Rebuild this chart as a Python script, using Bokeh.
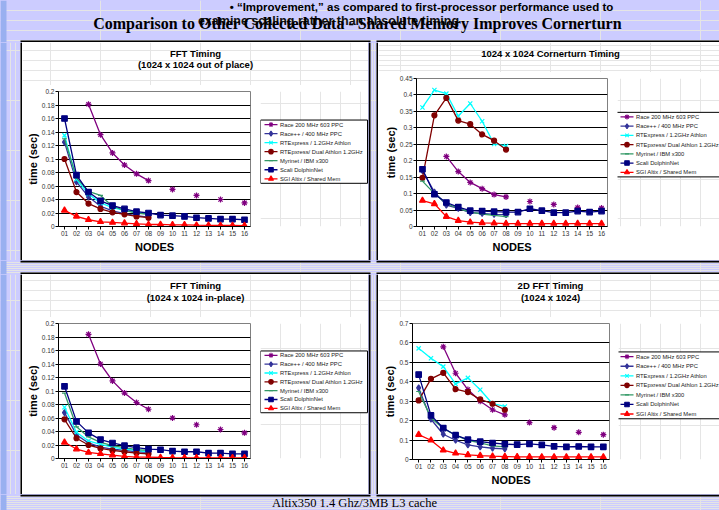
import numpy as np
from bokeh.plotting import figure
from bokeh.models import Range1d, FactorRange, FixedTicker, CustomJSTickFormatter, Label
from bokeh.core.properties import value
from bokeh.layouts import column, row
from bokeh.embed import file_html
from bokeh.resources import INLINE

N = np.nan
NODES = ["01", "02", "03", "04", "05", "06", "07", "08",
         "09", "10", "11", "12", "13", "14", "15", "16"]

SERIES = ["Race 200 MHz 603 PPC", "Race++ / 400 MHz PPC", "RTExpress / 1.2GHz Athlon",
          "RTEpxress/ Dual Athlon 1.2GHz", "Myrinet / IBM x300", "Scali DolphinNet",
          "SGI Altix / Shared Mem"]

# ---- FFT Timing (1024 x 1024 out of place) ----
OOP_RACE200 = [N, N, 0.181, 0.136, 0.109, 0.091, 0.078, 0.068, N, 0.055, N, 0.046, N, 0.040, N, 0.035]
OOP_RACEPP = [0.125, 0.066, 0.044, 0.030, 0.023, 0.019, 0.016, 0.014, N, N, N, N, N, N, N, N]
OOP_RTE = [0.135, 0.070, 0.048, 0.035, 0.028, 0.024, 0.021, 0.019, N, N, N, N, N, N, N, N]
OOP_DUAL = [0.100, 0.051, 0.034, 0.026, 0.021, 0.018, 0.015, 0.013, N, N, N, N, N, N, N, N]
OOP_MYRI = [0.130, 0.072, 0.052, 0.046, 0.030, 0.024, 0.020, 0.018, N, N, N, N, N, N, N, N]
OOP_SCALI = [0.160, 0.076, 0.051, 0.038, 0.031, 0.026, 0.022, 0.020, 0.017, 0.016, 0.015, 0.013, 0.012, 0.011, 0.011, 0.010]
OOP_SGI = [0.024, 0.015, 0.010, 0.007, 0.006, 0.005, 0.004, 0.003, 0.003, 0.0025, 0.0025, 0.002, 0.0018, 0.0016, 0.0015, 0.0014]
OOP_YTICKS = [0, 0.02, 0.04, 0.06, 0.08, 0.1, 0.12, 0.14, 0.16, 0.18, 0.2]

# ---- 1024 x 1024 Cornerturn Timing ----
CT_RACE200 = [N, N, 0.213, 0.167, 0.134, 0.115, 0.097, 0.090, N, 0.076, N, 0.067, N, 0.058, N, 0.056]
CT_RACEPP = [0.170, 0.105, 0.065, 0.055, 0.042, 0.040, 0.037, 0.036, N, N, N, N, N, N, N, N]
CT_RTE = [0.362, 0.415, 0.404, 0.336, 0.374, 0.320, 0.251, 0.245, N, N, N, N, N, N, N, N]
CT_DUAL = [0.148, 0.338, 0.391, 0.322, 0.311, 0.280, 0.261, 0.234, N, N, N, N, N, N, N, N]
CT_MYRI = [0.138, 0.100, 0.070, 0.055, 0.044, 0.038, 0.034, 0.030, N, N, N, N, N, N, N, N]
CT_SCALI = [0.174, 0.098, 0.073, 0.059, 0.048, 0.047, 0.045, 0.044, 0.044, 0.054, 0.048, 0.042, 0.042, 0.047, 0.044, 0.047]
CT_SGI = [0.079, 0.069, 0.030, 0.018, 0.013, 0.011, 0.010, 0.009, 0.009, 0.009, 0.009, 0.009, 0.009, 0.009, 0.009, 0.009]
CT_YTICKS = [0, 0.05, 0.1, 0.15, 0.2, 0.25, 0.3, 0.35, 0.4, 0.45]

# ---- FFT Timing (1024 x 1024 in-place) ----
IP_RACE200 = [N, N, 0.184, 0.140, 0.115, 0.097, 0.083, 0.073, N, 0.060, N, 0.050, N, 0.043, N, 0.038]
IP_RACEPP = [0.068, 0.035, 0.023, 0.017, 0.014, 0.012, 0.010, 0.009, N, N, N, N, N, N, N, N]
IP_RTE = [0.076, 0.039, 0.026, 0.021, 0.017, 0.014, 0.012, 0.010, N, N, N, N, N, N, N, N]
IP_DUAL = [0.058, 0.030, 0.020, 0.015, 0.012, 0.010, 0.008, 0.007, N, N, N, N, N, N, N, N]
IP_MYRI = [0.097, 0.047, 0.032, 0.024, 0.019, 0.016, 0.013, 0.012, N, N, N, N, N, N, N, N]
IP_SCALI = [0.107, 0.055, 0.038, 0.028, 0.023, 0.019, 0.016, 0.014, 0.013, 0.011, 0.010, 0.010, 0.008, 0.008, 0.007, 0.007]
IP_SGI = [0.024, 0.014, 0.009, 0.007, 0.005, 0.003, 0.002, 0.002, 0.0015, 0.0012, 0.001, 0.001, 0.001, 0.001, 0.001, 0.001]
IP_YTICKS = [0, 0.02, 0.04, 0.06, 0.08, 0.1, 0.12, 0.14, 0.16, 0.18, 0.2]

# ---- 2D FFT Timing (1024 x 1024) ----
TD_RACE200 = [N, N, 0.580, 0.444, 0.360, 0.300, 0.256, 0.230, N, 0.190, N, 0.164, N, 0.140, N, 0.128]
TD_RACEPP = [0.369, 0.207, 0.130, 0.099, 0.075, 0.065, 0.058, 0.055, N, N, N, N, N, N, N, N]
TD_RTE = [0.572, 0.521, 0.478, 0.389, 0.420, 0.359, 0.287, 0.273, N, N, N, N, N, N, N, N]
TD_DUAL = [0.304, 0.415, 0.446, 0.362, 0.347, 0.309, 0.287, 0.256, N, N, N, N, N, N, N, N]
TD_MYRI = [0.350, 0.215, 0.160, 0.125, 0.098, 0.085, 0.070, 0.065, N, N, N, N, N, N, N, N]
TD_SCALI = [0.437, 0.227, 0.162, 0.125, 0.102, 0.092, 0.085, 0.079, 0.077, 0.080, 0.075, 0.068, 0.065, 0.067, 0.065, 0.065]
TD_SGI = [0.128, 0.099, 0.048, 0.032, 0.024, 0.020, 0.017, 0.015, 0.014, 0.014, 0.013, 0.013, 0.013, 0.013, 0.013, 0.013]
TD_YTICKS = [0, 0.1, 0.2, 0.3, 0.4, 0.5, 0.6, 0.7]

HEADER_LINE1 = "\u2022 \u201cImprovement,\u201d as compared to first-processor performance used to"
HEADER_LINE2 = "examine scaling rather than absolute timing"
SLIDE_TITLE = "Comparison to Other Collected Data - Shared Memory Improves Cornerturn"
FOOTER = "Altix350 1.4 Ghz/3MB L3 cache"

# ---- styles ----
COLORS = ["#800080", "#333399", "#00FFFF", "#800000", "#339966", "#000080", "#FF0000"]
MARKERS = ["asterisk", "diamond", "x", "circle", "dash", "square", "triangle"]
MSIZES = [6, 6, 6, 5, 5, 5.5, 6]
LEG_MSIZES = [5, 5, 5, 4.5, 4, 4.5, 5]
LAV = "#CCCCFF"
STRIP = "#99B0F0"
SANS = "Liberation Sans"
SERIF = "Liberation Serif"
COMMON = dict(output_backend="svg", toolbar_location=None, title=None)

fmt = CustomJSTickFormatter(code="""
let s = tick.toFixed(2); s = s.replace(/0+$/, ''); s = s.replace(/\\.$/, ''); return s;
""")


def pix_fig(x0, x1, y0, y1, bg):
    """A plain figure whose frame is the whole canvas, in slide pixel coordinates."""
    f = figure(width=x1 - x0, height=y1 - y0, x_range=Range1d(x0, x1), y_range=Range1d(y1, y0),
               min_border=0, x_axis_location=None, y_axis_location=None, **COMMON)
    f.background_fill_color = bg
    f.border_fill_color = bg
    f.outline_line_color = None
    return f


def rects(f, boxes, color):
    f.quad(left=[b[0] for b in boxes], right=[b[1] for b in boxes],
           top=[b[2] for b in boxes], bottom=[b[3] for b in boxes],
           fill_color=color, line_color=None)


def filler(x0, x1, y0, y1, black_boxes):
    f = pix_fig(x0, x1, y0, y1, LAV)
    if x0 < 6:
        rects(f, [(0, 6, y0, y1)], STRIP)
    if black_boxes:
        rects(f, black_boxes, "black")
    return f


def title_fig(x0, x1, y0, y1, titles):
    f = pix_fig(x0, x1, y0, y1, "white")
    for text, cx, cy in titles:
        f.add_layout(Label(x=cx, y=cy, text=text, text_align="center", text_baseline="middle",
                           text_font=SANS, text_font_size="9.5px", text_font_style="bold",
                           text_color="black"))
    return f


def chart_fig(x0, x1, y0, y1, frame, ymax, yticks, series):
    fx0, fy0, fx1, fy1 = frame
    p = figure(width=x1 - x0, height=y1 - y0, x_range=FactorRange(*NODES),
               y_range=Range1d(0, ymax),
               min_border_left=fx0 - x0, min_border_right=x1 - fx1,
               min_border_top=fy0 - y0, min_border_bottom=y1 - fy1, **COMMON)
    p.border_fill_color = "white"
    p.background_fill_color = "white"
    p.outline_line_color = "#808080"
    p.outline_line_width = 1
    p.xgrid.visible = False
    p.ygrid.grid_line_color = "black"
    p.ygrid.grid_line_width = 1
    p.yaxis.ticker = FixedTicker(ticks=yticks)
    p.yaxis.formatter = fmt
    for ax in (p.xaxis[0], p.yaxis[0]):
        ax.axis_line_color = "black"
        ax.major_tick_line_color = "black"
        ax.major_tick_out = 3
        ax.major_tick_in = 0
        ax.minor_tick_line_color = None
        ax.major_label_text_font = SANS
        ax.major_label_text_font_size = "6.5px"
        ax.major_label_text_color = "#333333"
        ax.major_label_standoff = 1
        ax.axis_label_text_font = SANS
        ax.axis_label_text_font_size = "11px"
        ax.axis_label_text_font_style = "bold"
        ax.axis_label_text_color = "black"
    p.xaxis.axis_label_standoff = 2
    p.yaxis.axis_label_standoff = 0
    p.xaxis.axis_label = "NODES"
    p.yaxis.axis_label = "time (sec)"
    for vals, c, m, s in zip(series, COLORS, MARKERS, MSIZES):
        y = np.array(vals, dtype=float)
        p.line(NODES, y, line_color=c, line_width=1.3)
        p.scatter(NODES, y, marker=m, size=s, line_color=c, fill_color=c, line_width=1.2)
    return p


def legend_fig(x0, x1, y0, y1, box):
    """Legend box drawn in the white panel area next to the chart."""
    bx0, by0, bx1, by1 = box
    f = pix_fig(x0, x1, y0, y1, "white")
    f.quad(left=[bx0], right=[bx1], top=[by0], bottom=[by1],
           fill_color="white", line_color="black", line_width=1)
    step = (by1 - by0) / len(SERIES)
    ys = [by0 + (i + 0.5) * step for i in range(len(SERIES))]
    for yy, name, c, m, s in zip(ys, SERIES, COLORS, MARKERS, LEG_MSIZES):
        f.segment(x0=[bx0 + 4], x1=[bx0 + 17], y0=[yy], y1=[yy], line_color=c, line_width=1.3)
        f.scatter(x=[bx0 + 10.5], y=[yy], marker=m, size=s, line_color=c, fill_color=c,
                  line_width=1.1)
    f.text(x=[bx0 + 19.5] * len(SERIES), y=ys, text=SERIES, text_baseline="middle",
           text_align="left", text_font=value(SANS), text_font_size="5.8px",
           text_color="#222222")
    return f


def panel(x0, x1, y0, y1, title_h, chart_w, frame, ymax, yticks, series, titles, box):
    t = title_fig(x0, x1, y0, y0 + title_h, titles)
    c = chart_fig(x0, x0 + chart_w, y0 + title_h, y1, frame, ymax, yticks, series)
    l = legend_fig(x0 + chart_w, x1, y0 + title_h, y1, box)
    return column(t, row(c, l), styles={"background-color": "white"})


header = filler(0, 719, 0, 42, [(20, 370, 40, 42), (376, 719, 40, 42)])
header.add_layout(Label(x=421, y=6, text=HEADER_LINE1, text_align="center", text_baseline="middle",
                        text_font=SANS, text_font_size="11.5px", text_font_style="bold",
                        text_color="black"))
header.add_layout(Label(x=328, y=20, text=HEADER_LINE2, text_align="center", text_baseline="middle",
                        text_font=SANS, text_font_size="12.5px", text_font_style="bold",
                        text_color="#111111"))
header.add_layout(Label(x=357, y=23, text=SLIDE_TITLE, text_align="center", text_baseline="middle",
                        text_font=SERIF, text_font_size="16px", text_font_style="bold",
                        text_color="black"))

tl = panel(22, 368, 42, 260, 43, 238, (58, 91, 250, 226), 0.2, OOP_YTICKS,
           [OOP_RACE200, OOP_RACEPP, OOP_RTE, OOP_DUAL, OOP_MYRI, OOP_SCALI, OOP_SGI],
           [("FFT Timing", 195, 52.7), ("(1024 x 1024 out of place)", 195, 64)],
           (260, 122, 367, 204))
tr = panel(378, 719, 42, 260, 30, 239, (416, 78, 607, 226), 0.45, CT_YTICKS,
           [CT_RACE200, CT_RACEPP, CT_RTE, CT_DUAL, CT_MYRI, CT_SCALI, CT_SGI],
           [("1024 x 1024 Cornerturn Timing", 550, 53)],
           (616, 115, 730, 197))
bl = panel(22, 368, 274, 494, 43, 238, (58, 323, 250, 458), 0.2, IP_YTICKS,
           [IP_RACE200, IP_RACEPP, IP_RTE, IP_DUAL, IP_MYRI, IP_SCALI, IP_SGI],
           [("FFT Timing", 195, 285), ("(1024 x 1024 in-place)", 195, 296.7)],
           (260, 353, 367, 434))
br = panel(378, 719, 274, 494, 43, 240, (412, 323, 609, 459), 0.7, TD_YTICKS,
           [TD_RACE200, TD_RACEPP, TD_RTE, TD_DUAL, TD_MYRI, TD_SCALI, TD_SGI],
           [("2D FFT Timing", 550, 285), ("(1024 x 1024)", 550, 296.7)],
           (616, 354, 730, 441))


def panel_row(y0, y1, left_panel, right_panel):
    return row(filler(0, 22, y0, y1, [(20, 22, y0, y1)]),
               left_panel,
               filler(368, 378, y0, y1, [(368, 370, y0, y1), (376, 378, y0, y1)]),
               right_panel,
               styles={"background-color": LAV})


mid = filler(0, 719, 260, 274, [(20, 370, 260, 262), (376, 719, 260, 262),
                                (20, 370, 272, 274), (376, 719, 272, 274)])
footer = filler(0, 719, 494, 510, [(20, 370, 494, 496), (376, 719, 494, 496)])
footer.add_layout(Label(x=354, y=502.5, text=FOOTER, text_align="center", text_baseline="middle",
                        text_font=SERIF, text_font_size="12.5px", text_color="black"))

layout = column(header, panel_row(42, 260, tl, tr), mid, panel_row(274, 494, bl, br), footer,
                styles={"background-color": LAV})
open("out.html", "w").write(file_html(layout, INLINE))
